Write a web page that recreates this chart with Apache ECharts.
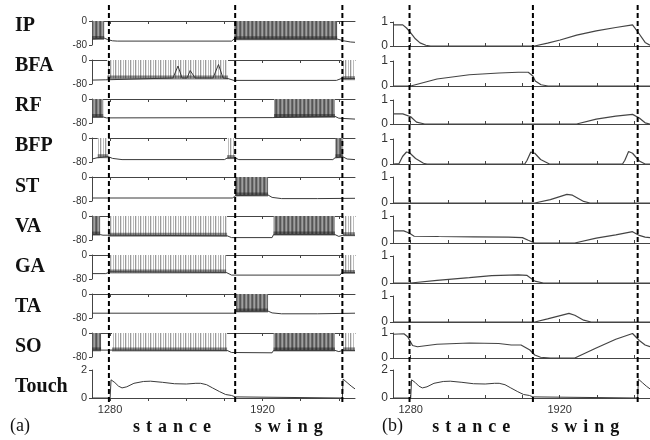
<!DOCTYPE html>
<html>
<head>
<meta charset="utf-8">
<script src="https://cdn.jsdelivr.net/npm/echarts@6/dist/echarts.min.js"></script>
<style>
html, body { margin: 0; padding: 0; background: #fff; }
#main { width: 650px; height: 440px; }
</style>
</head>
<body>
<div id="main"></div>
<script>
var names = ['IP', 'BFA', 'RF', 'BFP', 'ST', 'VA', 'GA', 'TA', 'SO'];
var tickTimes = [1280, 1440, 1600, 1760, 1920, 2080, 2240];
var labelTimes = [1280, 1920];
var phaseLines = [1275, 1805, 2255];
var phaseNames = ['stance', 'swing'];

// (a) membrane potential, mV (slow part of the trace)
var ipV = [[1204, -60], [1255, -57], [1270, -62], [1290, -66], [1310, -67], [1790, -67], [1800, -60], [2233, -60], [2260, -66], [2290, -70], [2308, -71]];
var bfaV = [[1204, -67], [1262, -66], [1268, -60], [1544, -60], [1565, -20], [1582, -60], [1603, -60], [1616, -35], [1637, -60], [1712, -60], [1735, -15], [1754, -60], [1775, -62], [1800, -68], [2230, -68], [2250, -62], [2308, -62]];
var rfV = [[1204, -60], [1251, -60], [1265, -63], [1960, -62], [1968, -56], [2224, -58], [2240, -64], [2308, -67]];
var bfpV = [[1204, -70], [1225, -66], [1272, -62], [1290, -68], [1330, -72], [1760, -72], [1771, -67], [1805, -66], [1820, -72], [2215, -72], [2224, -66], [2258, -63], [2275, -70], [2308, -72]];
var stV = [[1204, -70], [1795, -70], [1805, -62], [1943, -60], [1960, -68], [2000, -72], [2150, -72], [2308, -71]];
var vaV = [[1204, -62], [1238, -62], [1250, -64], [1272, -64], [1771, -66], [1790, -72], [1960, -72], [1966, -62], [2224, -62], [2240, -68], [2258, -64], [2308, -64]];
var gaV = [[1204, -62], [1262, -62], [1280, -56], [1767, -58], [1790, -67], [2245, -67], [2254, -58], [2308, -58]];
var taV = [[1204, -64], [1800, -64], [1809, -58], [1943, -57], [1960, -63], [2000, -66], [2150, -66], [2308, -64]];
var soV = [[1204, -57], [1242, -57], [1288, -57], [1771, -58], [1790, -65], [1960, -66], [1966, -58], [2224, -58], [2240, -62], [2258, -58], [2308, -58]];

// spike bursts: [start, end, trough mV]
var ipDense = [[1204, 1255, -60], [1800, 2233, -61]];
var ipSparse = [];
var bfaDense = [];
var bfaSparse = [[1268, 1775, -62], [2252, 2308, -64]];
var rfDense = [[1204, 1251, -60], [1968, 2224, -60]];
var rfSparse = [];
var bfpDense = [[2226, 2258, -64]];
var bfpSparse = [[1228, 1272, -64], [1771, 1805, -67]];
var stDense = [[1805, 1943, -62]];
var stSparse = [];
var vaDense = [[1204, 1238, -62], [1966, 2224, -62]];
var vaSparse = [[1272, 1771, -66], [2258, 2308, -64]];
var gaDense = [];
var gaSparse = [[1280, 1767, -58], [2254, 2308, -60]];
var taDense = [[1809, 1943, -58]];
var taSparse = [];
var soDense = [[1204, 1242, -58], [1966, 2224, -58]];
var soSparse = [[1288, 1771, -58], [2258, 2308, -58]];

// (b) activation, 0..1
var ipAct = [[1204, 0.88], [1246, 0.88], [1262, 0.75], [1280, 0.55], [1300, 0.3], [1320, 0.13], [1345, 0.03], [1365, 0], [1812, 0], [1868, 0.12], [1922, 0.25], [1993, 0.45], [2077, 0.63], [2161, 0.77], [2233, 0.88], [2262, 0.5], [2287, 0.15], [2308, 0.03]];
var bfaAct = [[1204, 0], [1280, 0], [1393, 0.28], [1532, 0.45], [1660, 0.52], [1742, 0.55], [1785, 0.55], [1805, 0.4], [1815, 0.2], [1840, 0.05], [1870, 0], [2308, 0]];
var rfAct = [[1204, 0.42], [1246, 0.42], [1280, 0.3], [1305, 0.08], [1340, 0], [1993, 0], [2077, 0.2], [2161, 0.33], [2233, 0.4], [2262, 0.25], [2287, 0.05], [2308, 0]];
var bfpAct = [[1204, 0], [1230, 0.02], [1245, 0.3], [1262, 0.48], [1275, 0.45], [1301, 0.22], [1335, 0.03], [1350, 0], [1770, 0], [1780, 0.15], [1796, 0.48], [1813, 0.43], [1838, 0.18], [1876, 0], [2190, 0], [2200, 0.15], [2216, 0.5], [2233, 0.43], [2262, 0.12], [2287, 0], [2308, 0]];
var stAct = [[1204, 0], [1813, 0], [1880, 0.13], [1951, 0.33], [1975, 0.3], [2023, 0.06], [2050, 0], [2308, 0]];
var vaAct = [[1204, 0.45], [1250, 0.45], [1265, 0.4], [1280, 0.33], [1295, 0.25], [1400, 0.24], [1550, 0.23], [1700, 0.22], [1760, 0.2], [1785, 0.1], [1810, 0.01], [1850, 0], [1985, 0], [2077, 0.18], [2161, 0.3], [2233, 0.42], [2262, 0.28], [2287, 0.22], [2308, 0.2]];
var gaAct = [[1204, 0], [1280, 0], [1393, 0.1], [1532, 0.2], [1628, 0.27], [1742, 0.3], [1780, 0.28], [1813, 0.07], [1850, 0], [2308, 0]];
var taAct = [[1204, 0], [1813, 0], [1868, 0.12], [1960, 0.33], [1985, 0.26], [2023, 0.07], [2055, 0], [2308, 0]];
var soAct = [[1204, 0.95], [1251, 0.97], [1267, 0.85], [1288, 0.5], [1309, 0.45], [1393, 0.55], [1532, 0.6], [1658, 0.58], [1712, 0.52], [1754, 0.52], [1792, 0.32], [1813, 0.12], [1838, 0.03], [1880, 0], [1985, 0], [2077, 0.4], [2161, 0.75], [2233, 0.98], [2262, 0.7], [2287, 0.52], [2308, 0.45]];

// touch sensor, 0..2
var touch = [[1204, 0], [1280, 0], [1284, 1.3], [1300, 1.1], [1315, 0.85], [1330, 0.72], [1350, 0.8], [1380, 1.05], [1420, 1.18], [1450, 1.2], [1500, 1.12], [1550, 1.02], [1600, 1.0], [1640, 1.05], [1660, 1.05], [1685, 0.95], [1710, 0.72], [1740, 0.45], [1765, 0.25], [1790, 0.18], [1805, 0.08], [1810, 0], [2255, 0], [2258, 1.35], [2275, 1.1], [2292, 0.85], [2308, 0.65]];

var traces = [ipV, bfaV, rfV, bfpV, stV, vaV, gaV, taV, soV];
var dense = [ipDense, bfaDense, rfDense, bfpDense, stDense, vaDense, gaDense, taDense, soDense];
var sparse = [ipSparse, bfaSparse, rfSparse, bfpSparse, stSparse, vaSparse, gaSparse, taSparse, soSparse];
var acts = [ipAct, bfaAct, rfAct, bfpAct, stAct, vaAct, gaAct, taAct, soAct];

var chart = echarts.init(document.getElementById('main'));

function stripes(cols) {
    var c = document.createElement('canvas');
    c.width = cols.length;
    c.height = 1;
    var ctx = c.getContext('2d');
    cols.forEach(function (col, i) {
        ctx.fillStyle = col;
        ctx.fillRect(i, 0, 1, 1);
    });
    return { image: c, repeat: 'repeat' };
}
var denseFill = stripes(['#555', '#888', '#a0a0a0', '#6a6a6a']);
var sparseFill = stripes(['#9a9a9a', '#e2e2e2', '#fff', '#bdbdbd', '#fff']);

function drawBurst(fill) {
    return function (params, api) {
        var a = api.coord([api.value(0), 0]);
        var b = api.coord([api.value(1), api.value(2)]);
        return {
            type: 'group',
            children: [
                { type: 'rect', shape: { x: a[0], y: a[1], width: b[0] - a[0], height: b[1] - a[1] }, style: { fill: fill } },
                { type: 'rect', shape: { x: a[0], y: b[1] - 3, width: b[0] - a[0], height: 4 }, style: { fill: 'rgba(30,30,30,0.5)' } }
            ]
        };
    };
}

var leftTops = [21, 60, 99, 138, 177, 216, 255, 294, 333];
var rightTops = [22, 61, 100, 139, 177, 216, 256, 296, 333];
var rightBottoms = [46, 86, 124, 164, 203, 243, 283, 322, 358];
var axisCol = '#444';

var grids = [], xAxes = [], yAxes = [], series = [];

function addRow(left, top, height, ymin, ymax, showLabels, labelSize, tickInside) {
    var k = grids.length;
    grids.push({ left: left, top: top, width: 263, height: height });
    xAxes.push({
        type: 'value', gridIndex: k, min: 1204, max: 2308,
        axisLine: { show: true, onZero: true, lineStyle: { color: axisCol, width: 1 } },
        axisTick: { show: true, customValues: tickTimes, length: 3, inside: tickInside, lineStyle: { color: axisCol } },
        axisLabel: {
            show: showLabels, customValues: labelTimes, margin: 6, fontSize: 11, color: '#333', fontFamily: 'Liberation Sans',
            formatter: function (v) { return String(v); }
        },
        splitLine: { show: false }
    });
    yAxes.push({
        type: 'value', gridIndex: k, min: ymin, max: ymax, interval: ymax - ymin,
        axisLine: { show: true, lineStyle: { color: axisCol, width: 1 } },
        axisTick: { show: true, length: 3, lineStyle: { color: axisCol } },
        axisLabel: { fontSize: labelSize, color: '#333', margin: 5, fontFamily: 'Liberation Sans' },
        splitLine: { show: false }
    });
    return k;
}

// panel (a)
for (var i = 0; i < 9; i++) {
    var k = addRow(92, leftTops[i], 24, -80, 0, false, 10, false);
    series.push({ type: 'custom', xAxisIndex: k, yAxisIndex: k, clip: true, renderItem: drawBurst(sparseFill), data: sparse[i], z: 2 });
    series.push({ type: 'custom', xAxisIndex: k, yAxisIndex: k, clip: true, renderItem: drawBurst(denseFill), data: dense[i], z: 2 });
    series.push({ type: 'line', xAxisIndex: k, yAxisIndex: k, data: traces[i], symbol: 'none', lineStyle: { color: '#3a3a3a', width: 1 }, z: 3 });
}
var ta = addRow(92, 370, 28, 0, 2, true, 11, false);
series.push({ type: 'line', xAxisIndex: ta, yAxisIndex: ta, data: touch, symbol: 'none', lineStyle: { color: '#3a3a3a', width: 1 }, z: 3 });

// panel (b)
for (var j = 0; j < 9; j++) {
    var kb = addRow(393, rightTops[j], rightBottoms[j] - rightTops[j], 0, 1, false, 12, true);
    series.push({ type: 'line', xAxisIndex: kb, yAxisIndex: kb, data: acts[j], symbol: 'none', lineStyle: { color: '#444', width: 1.2 }, z: 3 });
}
var tb = addRow(393, 370, 28, 0, 2, true, 12, true);
series.push({ type: 'line', xAxisIndex: tb, yAxisIndex: tb, data: touch, symbol: 'none', lineStyle: { color: '#3a3a3a', width: 1 }, z: 3 });

// full-height grids for phase lines and phase names
var midPhases = [];
for (var p = 0; p < phaseNames.length; p++) midPhases.push([(phaseLines[p] + phaseLines[p + 1]) / 2]);

[92, 393].forEach(function (left) {
    var k = grids.length;
    grids.push({ left: left, top: 5, width: 263, height: 397 });
    xAxes.push({ type: 'value', gridIndex: k, min: 1204, max: 2308, show: false });
    yAxes.push({ type: 'value', gridIndex: k, min: 0, max: 1, show: false });
    series.push({
        type: 'custom', xAxisIndex: k, yAxisIndex: k, z: 10,
        data: phaseLines.map(function (t) { return [t]; }),
        renderItem: function (params, api) {
            var a = api.coord([api.value(0), 0]);
            var b = api.coord([api.value(0), 1]);
            return { type: 'line', shape: { x1: a[0], y1: a[1], x2: b[0], y2: b[1] }, style: { stroke: '#000', lineWidth: 2, lineDash: [5, 3] } };
        }
    });
    series.push({
        type: 'custom', xAxisIndex: k, yAxisIndex: k, z: 10, clip: false,
        data: midPhases,
        renderItem: function (params, api) {
            var a = api.coord([api.value(0), 0]);
            return {
                type: 'text', x: a[0], y: a[1] + 25,
                style: {
                    text: phaseNames[params.dataIndex].split('').join('\u2004'),
                    font: 'bold 18px "Liberation Serif"', fill: '#111',
                    textAlign: 'center', textVerticalAlign: 'middle', align: 'center', verticalAlign: 'middle'
                }
            };
        }
    });
});

var graphics = [];
names.concat(['Touch']).forEach(function (n, i) {
    graphics.push({ type: 'text', left: 15, top: 16 + 40.1 * i, style: { text: n, font: 'bold 20px "Liberation Serif"', fill: '#111' } });
});
graphics.push({ type: 'text', left: 10, top: 417, style: { text: '(a)', font: '18px "Liberation Serif"', fill: '#111' } });
graphics.push({ type: 'text', left: 382, top: 417, style: { text: '(b)', font: '18px "Liberation Serif"', fill: '#111' } });

var option = {
    animation: false,
    backgroundColor: '#fff',
    grid: grids,
    xAxis: xAxes,
    yAxis: yAxes,
    series: series,
    graphic: graphics
};

chart.setOption(option);
</script>
</body>
</html>
